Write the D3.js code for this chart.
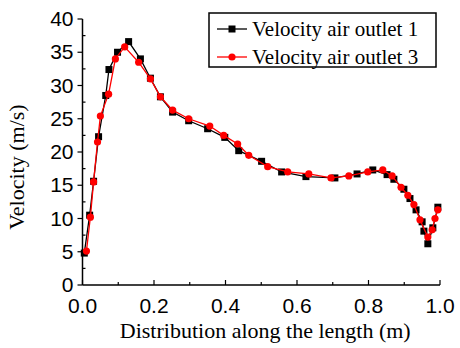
<!DOCTYPE html>
<html>
<head>
<meta charset="utf-8">
<script src="https://cdn.jsdelivr.net/npm/d3@7"></script>
<style>
  html, body { margin: 0; padding: 0; background: #fff; }
  svg { display: block; }
</style>
</head>
<body>
<script>
// Velocity profiles along the length for two air outlets
const outlet1X = [0.005, 0.020, 0.031, 0.045, 0.065, 0.074, 0.098, 0.129, 0.162, 0.190, 0.218, 0.252, 0.297, 0.350, 0.398, 0.437, 0.501, 0.557, 0.625, 0.706, 0.768, 0.812, 0.852, 0.871, 0.899, 0.916, 0.933, 0.950, 0.955, 0.966, 0.980, 0.994];
const outlet1V = [4.8, 10.5, 15.6, 22.3, 28.5, 32.4, 35.0, 36.6, 34.0, 31.1, 28.3, 26.0, 24.7, 23.5, 22.2, 20.2, 18.6, 17.0, 16.3, 16.1, 16.7, 17.3, 16.6, 15.9, 14.4, 13.0, 11.3, 9.5, 8.1, 6.2, 8.6, 11.7];

const outlet3X = [0.011, 0.022, 0.031, 0.042, 0.050, 0.073, 0.092, 0.118, 0.157, 0.190, 0.218, 0.252, 0.297, 0.356, 0.395, 0.434, 0.465, 0.518, 0.574, 0.633, 0.695, 0.745, 0.798, 0.840, 0.866, 0.891, 0.910, 0.927, 0.944, 0.966, 0.978, 0.986, 0.994];
const outlet3V = [5.1, 10.2, 15.5, 21.5, 25.4, 28.7, 34.0, 35.8, 33.5, 31.0, 28.3, 26.3, 25.0, 23.9, 22.5, 21.2, 19.5, 17.8, 17.0, 16.7, 16.1, 16.4, 17.0, 17.3, 16.4, 14.7, 13.5, 12.1, 9.8, 7.2, 8.3, 10.0, 11.3];

const xTicks = [0, 0.2, 0.4, 0.6, 0.8, 1.0];
const yTicks = [0, 5, 10, 15, 20, 25, 30, 35, 40];
const seriesNames = ["Velocity air outlet 1", "Velocity air outlet 3"];

const W = 460, H = 348;
const svg = d3.select("body").append("svg").attr("width", W).attr("height", H);

const x = d3.scaleLinear().domain([0, 1]).range([82.5, 440]);
const y = d3.scaleLinear().domain([0, 40]).range([285, 19]);

const tickFont = "'Liberation Sans', Arial, sans-serif";
const serif = "'Liberation Serif', 'Times New Roman', serif";

// Minor ticks (inward)
const xMinor = d3.range(0.1, 1.0, 0.2);
const yMinor = d3.range(2.5, 40, 5);

const gx = svg.append("g").attr("transform", `translate(0,${y(0)})`);
gx.append("line").attr("x1", x(0)).attr("x2", x(1)).attr("stroke", "#000").attr("stroke-width", 1.5);
gx.selectAll(".maj").data(xTicks).join("line")
  .attr("x1", d => x(d)).attr("x2", d => x(d)).attr("y1", -5).attr("y2", 0)
  .attr("stroke", "#000").attr("stroke-width", 1.2);
gx.selectAll(".min").data(xMinor).join("line")
  .attr("x1", d => x(d)).attr("x2", d => x(d)).attr("y1", -3).attr("y2", 0)
  .attr("stroke", "#000").attr("stroke-width", 1.2);
gx.selectAll("text").data(xTicks).join("text")
  .attr("x", d => x(d)).attr("y", 28)
  .attr("text-anchor", "middle")
  .attr("font-family", tickFont).attr("font-size", 21)
  .text(d => d3.format(".1f")(d));

const gy = svg.append("g").attr("transform", `translate(${x(0)},0)`);
gy.append("line").attr("y1", y(0)).attr("y2", y(40)).attr("stroke", "#000").attr("stroke-width", 1.5);
gy.selectAll(".maj").data(yTicks).join("line")
  .attr("y1", d => y(d)).attr("y2", d => y(d)).attr("x1", -5).attr("x2", 0)
  .attr("stroke", "#000").attr("stroke-width", 1.2);
gy.selectAll(".min").data(yMinor).join("line")
  .attr("y1", d => y(d)).attr("y2", d => y(d)).attr("x1", 0).attr("x2", 3)
  .attr("stroke", "#000").attr("stroke-width", 1.2);
gy.selectAll("text").data(yTicks).join("text")
  .attr("x", -9).attr("y", d => y(d)).attr("dy", "0.34em")
  .attr("text-anchor", "end")
  .attr("font-family", tickFont).attr("font-size", 21)
  .text(d => d);

// Axis titles
svg.append("text")
  .attr("x", (x(0) + x(1)) / 2 + 4).attr("y", 338)
  .attr("text-anchor", "middle")
  .attr("font-family", serif).attr("font-size", 22)
  .text("Distribution along the length (m)");
svg.append("text")
  .attr("transform", `translate(24,${(y(0) + y(40)) / 2 + 15}) rotate(-90)`)
  .attr("text-anchor", "middle")
  .attr("font-family", serif).attr("font-size", 22)
  .text("Velocity (m/s)");

// Series
const line = d3.line().x(d => x(d[0])).y(d => y(d[1]));
const s1 = outlet1X.map((v, i) => [v, outlet1V[i]]);
const s3 = outlet3X.map((v, i) => [v, outlet3V[i]]);

svg.append("path").datum(s1).attr("d", line)
  .attr("fill", "none").attr("stroke", "#000").attr("stroke-width", 1.3);
svg.append("g").selectAll("rect").data(s1).join("rect")
  .attr("x", d => x(d[0]) - 3.5).attr("y", d => y(d[1]) - 3.5)
  .attr("width", 7).attr("height", 7).attr("fill", "#000");

svg.append("path").datum(s3).attr("d", line)
  .attr("fill", "none").attr("stroke", "#ff0000").attr("stroke-width", 1.3);
svg.append("g").selectAll("circle").data(s3).join("circle")
  .attr("cx", d => x(d[0])).attr("cy", d => y(d[1])).attr("r", 3.6)
  .attr("fill", "#ff0000");

// Legend
const lg = svg.append("g");
lg.append("rect").attr("x", 209).attr("y", 13).attr("width", 227).attr("height", 54)
  .attr("fill", "#fff").attr("stroke", "#000").attr("stroke-width", 1.5);
const colors = ["#000", "#ff0000"];
seriesNames.forEach((name, i) => {
  const cy = 29 + i * 28;
  lg.append("line").attr("x1", 217).attr("x2", 247).attr("y1", cy).attr("y2", cy)
    .attr("stroke", colors[i]).attr("stroke-width", 1.3);
  if (i === 0) {
    lg.append("rect").attr("x", 232 - 3.5).attr("y", cy - 3.5).attr("width", 7).attr("height", 7).attr("fill", colors[i]);
  } else {
    lg.append("circle").attr("cx", 232).attr("cy", cy).attr("r", 3.6).attr("fill", colors[i]);
  }
  lg.append("text").attr("x", 252).attr("y", cy + 7)
    .attr("font-family", serif).attr("font-size", 21)
    .text(name);
});
</script>
</body>
</html>
